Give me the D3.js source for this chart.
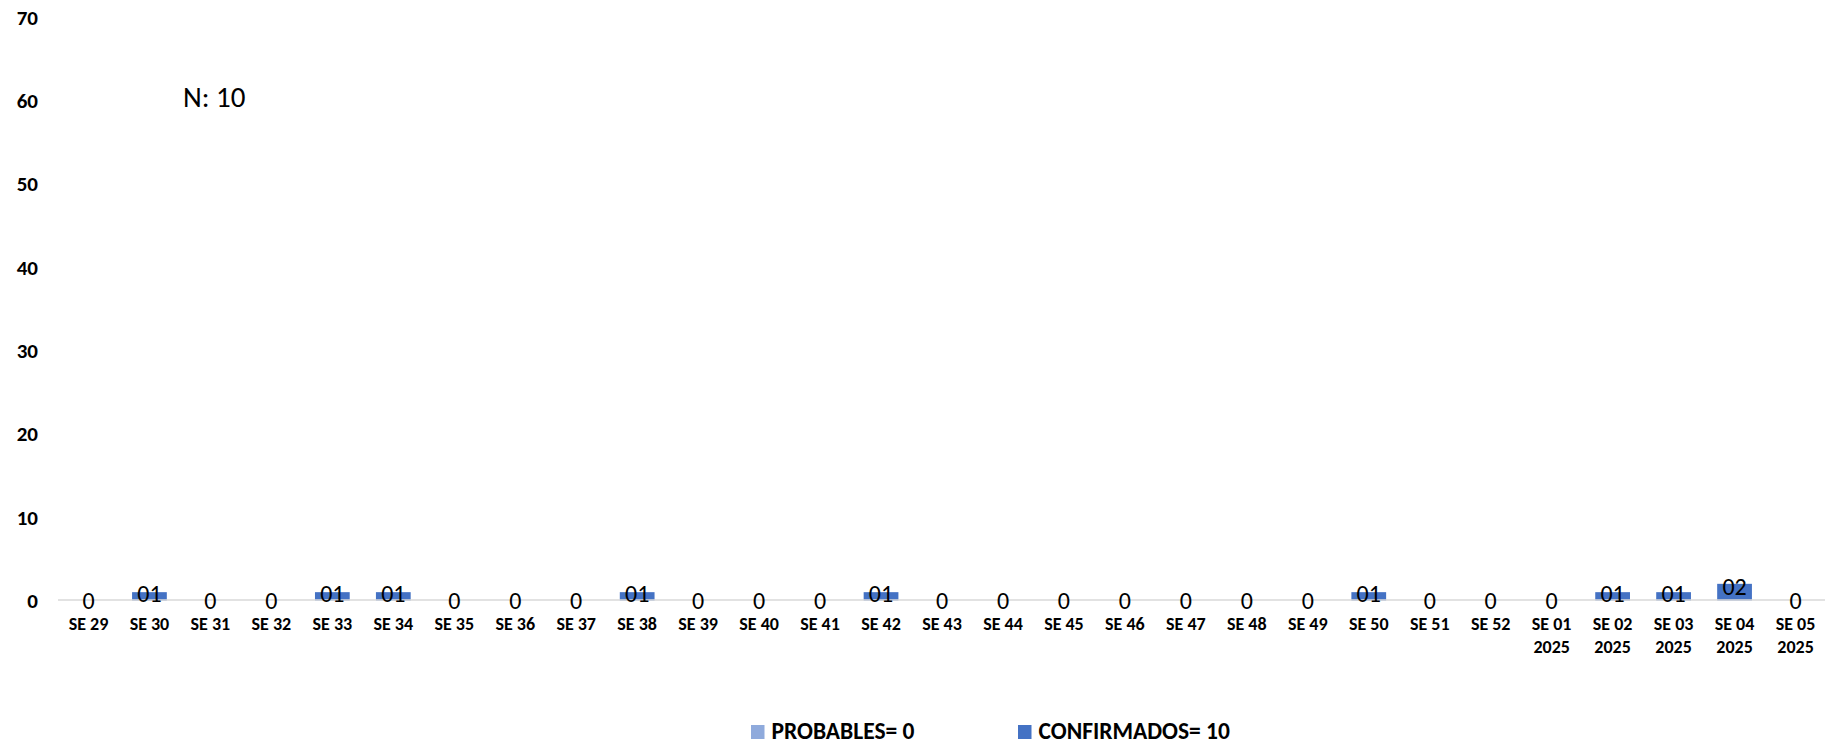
<!DOCTYPE html>
<html lang="es">
<head>
<meta charset="UTF-8" />
<title>Casos por SE</title>
<script src="https://cdnjs.cloudflare.com/ajax/libs/d3/7.6.1/d3.min.js"></script>
<style>
  body { margin: 0; background: #fff; }
  text { font-family: Carlito, Lato, sans-serif; fill: #000; }
</style>
</head>
<body>
<div id="chart"></div>
<script>
// semanas epidemiologicas
const categories = [
  "SE 29", "SE 30", "SE 31", "SE 32", "SE 33", "SE 34", "SE 35", "SE 36",
  "SE 37", "SE 38", "SE 39", "SE 40", "SE 41", "SE 42", "SE 43", "SE 44",
  "SE 45", "SE 46", "SE 47", "SE 48", "SE 49", "SE 50", "SE 51", "SE 52",
  "SE 01 2025", "SE 02 2025", "SE 03 2025", "SE 04 2025", "SE 05 2025"
];
const probables   = [0,0,0,0,0,0,0,0,0,0,0,0,0,0,0,0,0,0,0,0,0,0,0,0,0,0,0,0,0];
const confirmados = [0,1,0,0,1,1,0,0,0,1,0,0,0,1,0,0,0,0,0,0,0,1,0,0,0,1,1,2,0];
const yTicks = [0, 10, 20, 30, 40, 50, 60, 70];
const seriesNames = ["PROBABLES= 0", "CONFIRMADOS= 10"];
const seriesColors = ["#8faadc", "#4472c4"];
const totalLabel = "N: 10";

const width = 1840, height = 745;
const svg = d3.select("#chart").append("svg")
  .attr("width", width).attr("height", height);

const x = d3.scaleBand().domain(categories).range([58, 1826])
  .paddingInner(0.43).paddingOuter(0.215);
const y = d3.scaleLinear().domain([0, 70]).range([600.5, 17]);

// y labels
const yAxis = svg.append("g").attr("transform", "translate(38,0)")
  .call(d3.axisLeft(y).tickValues(yTicks).tickSize(0).tickPadding(0));
yAxis.select(".domain").remove();
yAxis.selectAll("text")
  .attr("dy", null).attr("y", 7)
  .attr("font-size", 21).attr("font-weight", "bold")
  .style("font-family", "Carlito, Lato, sans-serif").style("fill", "#000");

// stacked bars
const rows = categories.map((c, i) => ({ cat: c, p: probables[i], c: confirmados[i] }));
const stack = d3.stack().keys(["p", "c"])(rows);

svg.append("g").selectAll("g").data(stack).join("g")
  .attr("fill", (d, i) => seriesColors[i])
  .selectAll("rect").data(d => d).join("rect")
  .attr("x", d => x(d.data.cat))
  .attr("width", x.bandwidth())
  .attr("y", d => y(d[1]))
  .attr("height", d => y(d[0]) - y(d[1]));

// baseline
svg.append("line")
  .attr("x1", 58).attr("x2", 1825)
  .attr("y1", 600).attr("y2", 600)
  .attr("stroke", "#d9d9d9").attr("stroke-width", 1.5);

// data labels (sit a little above the bar middle, like excel does)
svg.append("g").selectAll("text").data(rows).join("text")
  .attr("x", d => x(d.cat) + x.bandwidth() / 2)
  .attr("y", d => (y(0) + y(d.p + d.c)) / 2 + 8 - 2.5 * (d.p + d.c))
  .attr("text-anchor", "middle")
  .attr("font-size", 24)
  .text(d => d.c === 0 ? "0" : d3.format("02d")(d.c));

// x labels (year on a second line)
const xl = svg.append("g").selectAll("text").data(categories).join("text")
  .attr("x", d => x(d) + x.bandwidth() / 2)
  .attr("y", 630)
  .attr("text-anchor", "middle")
  .attr("font-size", 18).attr("font-weight", "bold");
xl.each(function (d) {
  const parts = d.split(" ");
  const t = d3.select(this);
  t.append("tspan").attr("x", t.attr("x")).text(parts.slice(0, 2).join(" "));
  if (parts.length > 2)
    t.append("tspan").attr("x", t.attr("x")).attr("dy", 22.5).text(parts[2]);
});

// N
svg.append("text").attr("x", 183).attr("y", 107)
  .attr("font-size", 29).text(totalLabel);

// legend
const legendX = [751, 1018];
const lg = svg.append("g").selectAll("g").data(seriesNames).join("g")
  .attr("transform", (d, i) => `translate(${legendX[i]},725)`);
lg.append("rect").attr("width", 13.5).attr("height", 14)
  .attr("fill", (d, i) => seriesColors[i]);
lg.append("text").attr("x", 20.5).attr("y", 14)
  .attr("font-size", 23.5).attr("font-weight", "bold")
  .text(d => d);
</script>
</body>
</html>
